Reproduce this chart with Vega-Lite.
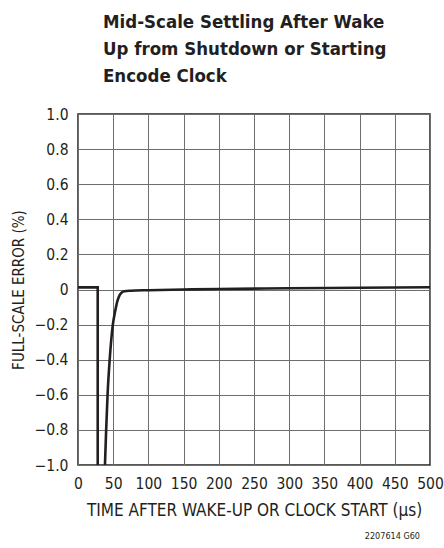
{
  "$schema": "https://vega.github.io/schema/vega-lite/v6.json",
  "autosize": {"type": "none"},
  "width": 352,
  "height": 351,
  "padding": {"left": 78, "top": 114, "right": 14, "bottom": 83},
  "background": "white",
  "config": {
    "font": "DejaVu Sans Condensed",
    "view": {"stroke": "#222", "strokeWidth": 1.5},
    "axis": {
      "domain": false,
      "ticks": false,
      "grid": true,
      "gridColor": "#6e6e6e",
      "gridWidth": 1,
      "gridOpacity": 1,
      "labelOverlap": false,
      "labelFont": "DejaVu Sans Condensed",
      "titleFont": "DejaVu Sans Condensed",
      "labelColor": "#231f20",
      "titleColor": "#231f20",
      "labelFontSize": 15.5,
      "titleFontWeight": "normal"
    }
  },
  "title": {
    "text": ["Mid-Scale Settling After Wake", "Up from Shutdown or Starting", "Encode Clock"],
    "anchor": "start",
    "frame": "group",
    "dx": 25,
    "offset": 22,
    "fontSize": 18.5,
    "lineHeight": 27,
    "fontWeight": "bold",
    "font": "DejaVu Sans Condensed",
    "color": "#231f20"
  },
  "datasets": {
    "step": [
      {"t": 0, "err": 0.012},
      {"t": 28, "err": 0.012},
      {"t": 28, "err": -1.3}
    ],
    "settle": [
      {"t": 38.3, "err": -1.0},
      {"t": 40, "err": -0.8},
      {"t": 42, "err": -0.6},
      {"t": 45, "err": -0.4},
      {"t": 49.5, "err": -0.2},
      {"t": 53, "err": -0.12},
      {"t": 56, "err": -0.065},
      {"t": 59, "err": -0.033},
      {"t": 62, "err": -0.018},
      {"t": 66, "err": -0.01},
      {"t": 75, "err": -0.007},
      {"t": 100, "err": -0.004},
      {"t": 150, "err": 0.0},
      {"t": 200, "err": 0.003},
      {"t": 300, "err": 0.007},
      {"t": 400, "err": 0.01},
      {"t": 500, "err": 0.013}
    ],
    "note": [{"label": "2207614 G60", "t": 500, "err": -1.0}]
  },
  "encoding": {
    "x": {
      "field": "t", "type": "quantitative",
      "scale": {"domain": [0, 500], "nice": false},
      "axis": {"values": [0, 50, 100, 150, 200, 250, 300, 350, 400, 450, 500], "labelPadding": 11, "titlePadding": 11, "titleFontSize": 17, "labelFlush": false, "title": "TIME AFTER WAKE-UP OR CLOCK START (µs)"}
    },
    "y": {
      "field": "err", "type": "quantitative",
      "scale": {"domain": [-1, 1], "nice": false, "zero": false},
      "axis": {"values": [-1, -0.8, -0.6, -0.4, -0.2, 0, 0.2, 0.4, 0.6, 0.8, 1], "labelExpr": "datum.value == 0 ? '0' : replace(format(datum.value, '.1f'), '-', '−')", "labelPadding": 10, "titlePadding": 8, "titleFontSize": 15, "labelFlush": false, "title": "FULL-SCALE ERROR (%)"}
    }
  },
  "layer": [
    {
      "data": {"name": "step"},
      "mark": {"type": "line", "color": "#231f20", "strokeWidth": 2.6, "clip": true}
    },
    {
      "data": {"name": "settle"},
      "mark": {"type": "line", "color": "#231f20", "strokeWidth": 2.6, "interpolate": "monotone", "clip": true}
    },
    {
      "data": {"name": "note"},
      "mark": {"type": "text", "align": "right", "baseline": "middle", "dx": -10, "dy": 71, "fontSize": 9, "color": "#231f20"},
      "encoding": {
        "text": {"field": "label"}
      }
    }
  ]
}
